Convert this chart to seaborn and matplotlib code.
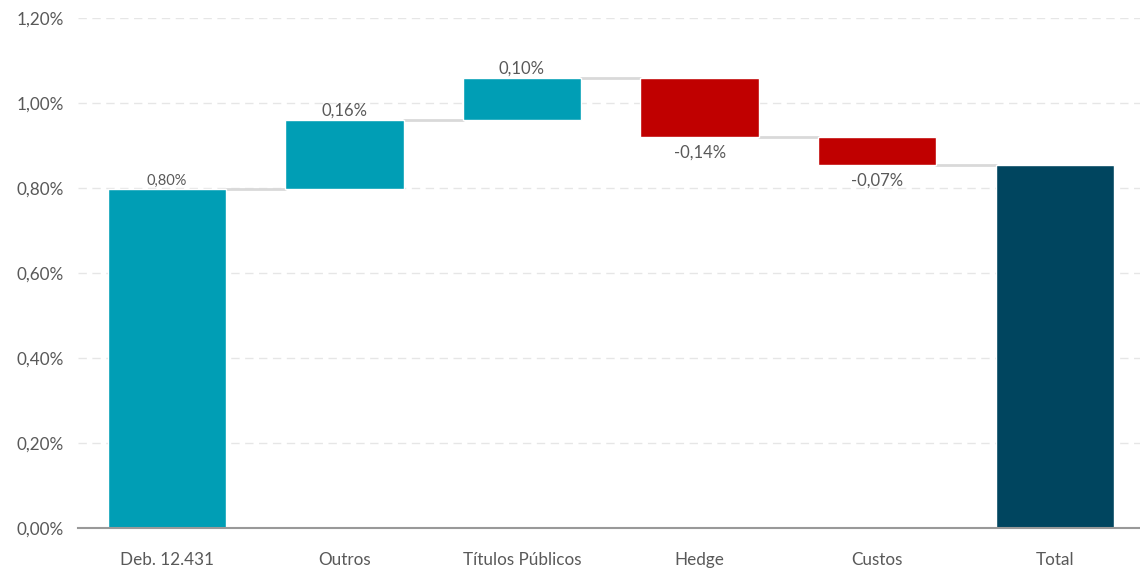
import numpy as np
import pandas as pd
import matplotlib
matplotlib.use("Agg")
import matplotlib.pyplot as plt
import seaborn as sns
from matplotlib.ticker import FuncFormatter

# dados do waterfall (em %)
categorias = ["Deb. 12.431", "Outros", "Títulos Públicos", "Hedge", "Custos", "Total"]
variacoes = [0.798, 0.163, 0.097, -0.138, -0.066]
rotulos = ["0,80%", "0,16%", "0,10%", "-0,14%", "-0,07%", ""]

cor_pos = "#009EB5"
cor_neg = "#C00000"
cor_total = "#00455F"

# acumulado
acum = np.cumsum(variacoes)
total = acum[-1]
inicio = np.concatenate([[0], acum[:-1]])

bases = list(np.minimum(inicio, acum)) + [0]
alturas = list(np.abs(variacoes)) + [total]
cores = [cor_pos if v >= 0 else cor_neg for v in variacoes] + [cor_total]

df = pd.DataFrame({"cat": categorias, "altura": alturas, "base": bases})

sns.set_theme(style="white")
plt.rcParams["font.family"] = ["Lato", "DejaVu Sans"]

fig = plt.figure(figsize=(11.4, 5.68), dpi=100)
ax = fig.add_axes([78 / 1140, 40 / 568, 1062 / 1140, 510 / 568])

# uma barra por vez, cada uma com sua base
for i, linha in df.iterrows():
    sns.barplot(data=df.iloc[[i]], x="cat", y="altura", order=categorias,
                bottom=linha["base"], color=cores[i], saturation=1,
                width=0.667, ax=ax, zorder=2)

# linhas de ligação
meia = 0.667 / 2
for i, nivel in enumerate(acum):
    ax.plot([i + meia, i + 1 - meia], [nivel, nivel], color="#D9D9D9", lw=2, zorder=1)

# rótulos
for i, txt in enumerate(rotulos):
    if not txt:
        continue
    v = variacoes[i]
    if v >= 0:
        y = acum[i] + 0.003
        va = "bottom"
    else:
        y = acum[i] - 0.018
        va = "top"
    ax.text(i, y, txt, ha="center", va=va, color="#595959",
            fontsize=10.5 if i == 0 else 12)

ax.set_ylim(0, 1.2)
ax.set_xlim(-0.5, 5.48)
ax.set_yticks(np.arange(0, 1.21, 0.2))
ax.yaxis.set_major_formatter(FuncFormatter(lambda v, p: f"{v:.2f}%".replace(".", ",")))
for yv in np.arange(0.2, 1.21, 0.2):
    ax.axhline(yv, color="#E6E6E6", lw=1, ls=(0, (6, 4)), zorder=0)

ax.set_xlabel("")
ax.set_ylabel("")
for s in ["top", "right", "left"]:
    ax.spines[s].set_visible(False)
ax.spines["bottom"].set_color("#999999")
ax.spines["bottom"].set_linewidth(1.5)
ax.tick_params(axis="both", length=0, labelcolor="#595959", labelsize=12.3)
ax.tick_params(axis="x", pad=17)
ax.tick_params(axis="y", pad=10)

fig.savefig("out.png", dpi=100)
